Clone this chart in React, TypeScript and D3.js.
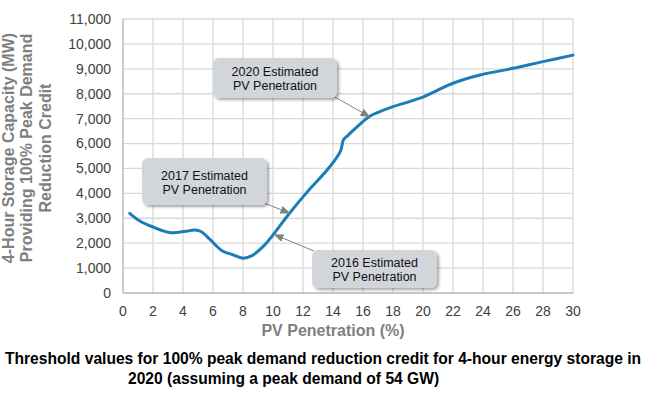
import * as d3 from "d3";

const penetration = [0.45, 1.1, 2.0, 3.2, 4.2, 4.8, 5.2, 5.8, 6.6, 7.3, 8.0, 8.6, 9.4, 10.0, 11.1, 12.2, 13.8, 14.5, 14.7, 15.0, 16.4, 17.0, 18.0, 19.8, 22.0, 23.8, 26.0, 28.0, 30.0];
const capacity = [3200, 2900, 2650, 2420, 2480, 2530, 2470, 2150, 1700, 1540, 1400, 1500, 1900, 2330, 3200, 4000, 5080, 5700, 6150, 6330, 7080, 7250, 7480, 7820, 8420, 8750, 9020, 9290, 9550];

const xTicks = d3.range(0, 31, 2);
const yTicks = d3.range(0, 11001, 1000);

const annotations = [
  { label: ["2020 Estimated", "PV Penetration"], box: [213, 58, 124, 40], from: [333, 96], to: [16.44, 7080] },
  { label: ["2017 Estimated", "PV Penetration"], box: [142, 158, 125, 47], from: [264, 203], to: [11.1, 3210] },
  { label: ["2016 Estimated", "PV Penetration"], box: [312, 250, 125, 38], from: [314, 251], to: [10.1, 2340] },
];

const yTitle = ["4-Hour Storage Capacity (MW)", "Providing 100% Peak Demand", "Reduction Credit"];
const caption = [
  "Threshold values for 100% peak demand reduction credit for 4-hour energy storage in",
  "2020 (assuming a peak demand of 54 GW)",
];

export default function App() {
  const width = 654;
  const height = 397;
  const margin = { top: 19, right: 81, bottom: 104, left: 123 };
  const x = d3.scaleLinear().domain([0, 30]).range([margin.left, width - margin.right]);
  const y = d3.scaleLinear().domain([0, 11000]).range([height - margin.bottom, margin.top]);

  const pts = penetration.map((p, i) => [p, capacity[i]] as [number, number]);
  const line = d3
    .line<[number, number]>()
    .x((d) => x(d[0]))
    .y((d) => y(d[1]))
    .curve(d3.curveCatmullRom.alpha(0.5));

  const fmt = d3.format(",");
  const font = "Arial, 'Liberation Sans', Helvetica, sans-serif";

  return (
    <svg
      width={width}
      height={height}
      style={{ position: "absolute", left: 0, top: 0, background: "#fff", fontFamily: font }}
    >
      <defs>
        <filter id="shadow" x="-10%" y="-10%" width="130%" height="140%">
          <feDropShadow dx="2" dy="2" stdDeviation="1.5" floodColor="#000" floodOpacity="0.35" />
        </filter>
        <marker id="arrow" viewBox="0 0 10 10" refX="9" refY="5" markerWidth="10" markerHeight="10" orient="auto">
          <path d="M0,1 L10,5 L0,9 Z" fill="#808080" />
        </marker>
      </defs>

      {/* grid */}
      <g stroke="#d9d9d9" strokeWidth={1.3}>
        {xTicks.map((t) => (
          <line key={"gx" + t} x1={x(t)} x2={x(t)} y1={y(11000)} y2={y(0)} />
        ))}
        {yTicks.map((t) => (
          <line key={"gy" + t} x1={x(0)} x2={x(30)} y1={y(t)} y2={y(t)} />
        ))}
      </g>
      <line x1={x(0)} x2={x(30)} y1={y(0)} y2={y(0)} stroke="#bfbfbf" strokeWidth={1.3} />
      <line x1={x(0)} x2={x(0)} y1={y(0)} y2={y(11000)} stroke="#bfbfbf" strokeWidth={1.3} />

      {/* tick labels */}
      <g fontSize={14} fill="#404040">
        {yTicks.map((t) => (
          <text key={"ty" + t} x={111} y={y(t)} dy="0.35em" textAnchor="end">
            {fmt(t)}
          </text>
        ))}
        {xTicks.map((t) => (
          <text key={"tx" + t} x={x(t)} y={316} textAnchor="middle">
            {t}
          </text>
        ))}
      </g>

      <path d={line(pts) ?? ""} fill="none" stroke="#1a7db8" strokeWidth={3} strokeLinecap="round" />

      {/* annotations */}
      {annotations.map((a, i) => {
        const [bx, by, bw, bh] = a.box;
        const cx = bx + bw / 2;
        const cy = by + bh / 2;
        return (
          <g key={"an" + i}>
            <line
              x1={a.from[0]}
              y1={a.from[1]}
              x2={x(a.to[0])}
              y2={y(a.to[1])}
              stroke="#808080"
              strokeWidth={1}
              markerEnd="url(#arrow)"
            />
            <rect x={bx} y={by} width={bw} height={bh} rx={6} fill="#d2d5d9" filter="url(#shadow)" />
            <text x={cx} y={cy - 2} textAnchor="middle" fontSize={12.5} fill="#111">
              {a.label[0]}
            </text>
            <text x={cx} y={cy + 12} textAnchor="middle" fontSize={12.5} fill="#111">
              {a.label[1]}
            </text>
          </g>
        );
      })}

      {/* axis titles */}
      <g fontWeight="bold" fill="#7f7f7f" fontSize={16}>
        {yTitle.map((s, i) => (
          <text key={"yt" + i} transform={`translate(${14 + i * 18.3},148) rotate(-90)`} textAnchor="middle">
            {s}
          </text>
        ))}
        <text x={333} y={336} textAnchor="middle" fontSize={16}>
          PV Penetration (%)
        </text>
      </g>

      <g fontWeight="bold" fill="#000" fontSize={15.6}>
        <text x={5} y={364}>
          {caption[0]}
        </text>
        <text x={128} y={384}>
          {caption[1]}
        </text>
      </g>
    </svg>
  );
}
